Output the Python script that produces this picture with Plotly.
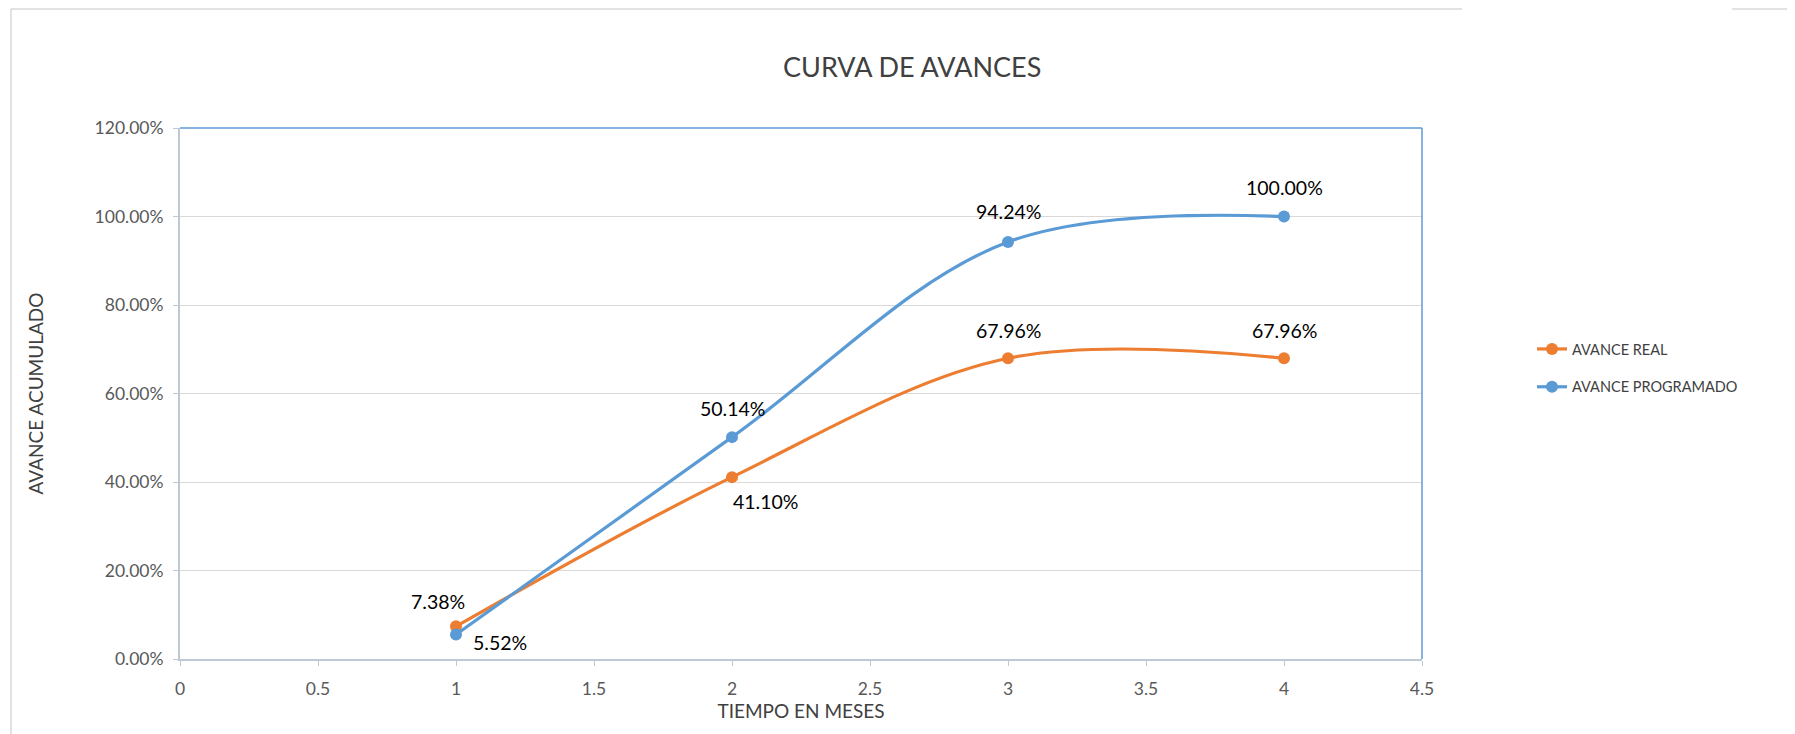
import plotly.graph_objects as go

meses = [1, 2, 3, 4]
avance_real = [0.0738, 0.4110, 0.6796, 0.6796]
avance_programado = [0.0552, 0.5014, 0.9424, 1.0000]
etiquetas_real = ["7.38%", "41.10%", "67.96%", "67.96%"]
etiquetas_prog = ["5.52%", "50.14%", "94.24%", "100.00%"]
x_ticks = [0, 0.5, 1, 1.5, 2, 2.5, 3, 3.5, 4, 4.5]
x_tick_text = ["0", "0.5", "1", "1.5", "2", "2.5", "3", "3.5", "4", "4.5"]
y_ticks = [0, 0.2, 0.4, 0.6, 0.8, 1.0, 1.2]

ORANGE = "#ED7D31"
BLUE = "#5B9BD5"
FONT = "Lato, 'Open Sans', sans-serif"

L, T, PW, PH = 172, 120, 1242, 531  # plot area in page px (page has 8px body offset)

def px(x):
    return (x - 8 - L) / PW

def py(y):
    return (T + 8 + PH - y) / PH

fig = go.Figure()
fig.add_trace(go.Scatter(
    x=meses, y=avance_real, name="AVANCE REAL", mode="lines+markers",
    line=dict(color=ORANGE, width=3.2, shape="spline", smoothing=1),
    marker=dict(size=12, color=ORANGE), legendgroup="a", hoverinfo="skip"))
fig.add_trace(go.Scatter(
    x=meses, y=avance_programado, name="AVANCE PROGRAMADO", mode="lines+markers",
    line=dict(color=BLUE, width=3.2, shape="spline", smoothing=1),
    marker=dict(size=12, color=BLUE), legendgroup="b", hoverinfo="skip"))

ann = []
real_shifts = [(-18, 25), (33, -24), (0, 28), (0, 28)]
prog_shifts = [(44, -8), (0, 29), (0, 30), (0, 29)]
for x, y, t, (dx, dy) in zip(meses, avance_real, etiquetas_real, real_shifts):
    ann.append(dict(x=x, y=y, text=t, showarrow=False, xshift=dx, yshift=dy,
                    font=dict(size=19.5, color="#000000", family=FONT)))
for x, y, t, (dx, dy) in zip(meses, avance_programado, etiquetas_prog, prog_shifts):
    ann.append(dict(x=x, y=y, text=t, showarrow=False, xshift=dx, yshift=dy,
                    font=dict(size=19.5, color="#000000", family=FONT)))
ann.append(dict(xref="paper", yref="paper", x=px(912), y=py(48),
                text="CURVA DE AVANCES", showarrow=False,
                font=dict(size=27, color="#404040", family=FONT)))

shapes = [
    dict(type="line", xref="paper", yref="paper", x0=0, x1=1, y0=1, y1=1,
         line=dict(color=BLUE, width=1.5)),
    dict(type="line", xref="paper", yref="paper", x0=1, x1=1, y0=0, y1=1,
         line=dict(color=BLUE, width=1.5)),
    dict(type="line", xref="paper", yref="paper", x0=px(11), x1=px(1462),
         y0=py(9), y1=py(9), line=dict(color="#D9D9D9", width=1.5)),
    dict(type="line", xref="paper", yref="paper", x0=px(1732), x1=px(1800),
         y0=py(9), y1=py(9), line=dict(color="#D9D9D9", width=1.5)),
    dict(type="line", xref="paper", yref="paper", x0=px(11), x1=px(11),
         y0=py(9), y1=py(760), line=dict(color="#D9D9D9", width=1.5)),
]

fig.update_layout(
    width=1795, height=734,
    margin=dict(l=L, r=1795 - L - PW, t=T, b=734 - T - PH),
    paper_bgcolor="white", plot_bgcolor="white",
    font=dict(family=FONT, color="#595959"),
    showlegend=True,
    legend=dict(x=px(1532), y=py(368), xanchor="left", yanchor="middle",
                traceorder="grouped", tracegroupgap=16,
                font=dict(size=14.5, color="#404040", family=FONT),
                bgcolor="rgba(0,0,0,0)"),
    annotations=ann, shapes=shapes,
    xaxis=dict(range=[0, 4.5], tickvals=x_ticks, ticktext=x_tick_text,
               showgrid=False, zeroline=False, showline=True, linecolor="#BFC9D6", linewidth=2,
               ticks="outside", ticklen=5, tickcolor="#BFC9D6", ticklabelstandoff=8,
               tickfont=dict(size=17.5, color="#595959"),
               title=dict(text="TIEMPO EN MESES", font=dict(size=19, color="#404040"), standoff=6)),
    yaxis=dict(range=[0, 1.2], tickvals=y_ticks, tickformat=".2%",
               showgrid=True, gridcolor="#D9D9D9", gridwidth=1, zeroline=False,
               showline=True, linecolor="#BFC9D6", linewidth=2,
               ticks="outside", ticklen=5, tickcolor="#BFC9D6", ticklabelstandoff=6,
               tickfont=dict(size=17.5, color="#595959"),
               title=dict(text="AVANCE ACUMULADO", font=dict(size=19, color="#404040"), standoff=46)),
)

fig.write_html("out.html")
